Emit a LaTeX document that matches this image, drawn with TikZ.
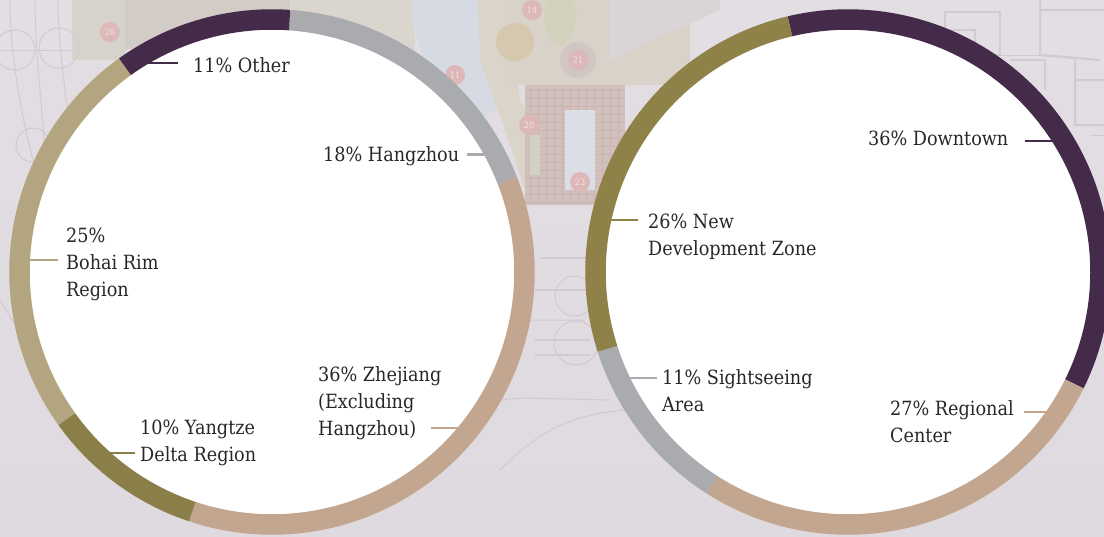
\documentclass[tikz,border=0pt]{standalone}
\usepackage{fontspec}
\setmainfont{DejaVu Serif Condensed}
\definecolor{ringDark}{HTML}{432B49}
\definecolor{ringGray}{HTML}{A9ABAE}
\definecolor{ringTan}{HTML}{C3A68F}
\definecolor{ringOlive}{HTML}{8A7F48}
\definecolor{ringOliveB}{HTML}{8F8249}
\definecolor{ringKhaki}{HTML}{B3A57F}
\definecolor{bgTop}{HTML}{E3DEE4}
\definecolor{bgBase}{HTML}{DFDADF}
\definecolor{planLine}{HTML}{D2C9D1}
\definecolor{labelInk}{HTML}{2A2628}
\definecolor{spot}{HTML}{DDB8B8}
\definecolor{bgC}{HTML}{D6D4CA}
\definecolor{bgD}{HTML}{D3CBC6}
\definecolor{bgE}{HTML}{DAD6CE}
\definecolor{bgF}{HTML}{D6DAE2}
\definecolor{bgG}{HTML}{DBD4C9}
\definecolor{bgH}{HTML}{D8D2C9}
\definecolor{bgI}{HTML}{D6C8AE}
\definecolor{bgJ}{HTML}{D2D2BC}
\definecolor{bgK}{HTML}{D2C6C4}
\definecolor{bgL}{HTML}{D2C0BC}
\definecolor{bgM}{HTML}{DCDEE5}
\definecolor{bgN}{HTML}{D1D2C4}
\definecolor{bgO}{HTML}{E2DDE3}
\definecolor{bgP}{HTML}{DBD4D7}
\definecolor{bgQ}{HTML}{C9B4AF}
\tikzset{
  ringseg/.style={line width=20.5pt,line cap=butt,line join=round},
  leader/.style={line width=2.4pt},
  lab/.style={anchor=base west,align=left,inner sep=0pt,text=labelInk,font=\fontsize{19.6}{26.8}\selectfont},
  planl/.style={draw=planLine,line width=1pt},
  planh/.style={draw=planLine,line width=2pt},
  spotn/.style={circle,fill=spot,minimum size=20pt,inner sep=0pt,text=white!60!spot,font=\fontsize{9}{9}\selectfont},
}
\newcommand{\seg}[4]{\draw[ringseg,draw=#4] plot[domain=#2:#3,samples=90,smooth] ({#1+252.5*sin(\x)},{272-252.5*cos(\x)});}
\begin{document}
\begin{tikzpicture}[x=1pt,y=-1pt]
\useasboundingbox (0,0) rectangle (1104,536);
% ---- faded plan in the background
\fill[top color=bgTop,bottom color=bgBase] (0,0) rectangle (1104,536);
\fill[bgC] (72,0) rectangle (125,60);
\fill[bgD] (125,0) -- (290,0) -- (290,20) -- (125,50) -- cycle;
\fill[bgE] (290,0) rectangle (415,60);
\fill[bgF] (412,0) -- (480,0) .. controls (482,40) and (490,70) .. (500,110) -- (470,120) .. controls (440,90) and (420,60) .. (412,20) -- cycle;
\fill[bgG] (478,0) -- (505,0) -- (520,100) -- (545,150) -- (525,190) -- (505,130) -- (480,60) -- cycle;
\fill[bgH] (505,0) rectangle (690,85);
\fill[bgI] (515,42) circle (19);
\fill[bgJ] (560,15) ellipse (16 and 30);
\fill[bgK] (578,60) circle (18);
\fill[bgL] (525,85) rectangle (625,205);
\foreach \bx in {530,538,...,622} {\draw[bgQ,line width=0.6pt] (\bx,85) -- (\bx,205);}
\foreach \by in {90,98,...,202} {\draw[bgQ,line width=0.6pt] (525,\by) -- (625,\by);}
\fill[bgM] (565,110) rectangle (595,190);
\fill[bgN] (530,135) rectangle (540,175);
\fill[bgO] (530,205) rectangle (610,228);
\fill[bgP] (610,60) -- (720,10) -- (720,0) -- (610,0) -- cycle;
\node[spotn] (s1) at (110,32) {26};
\node[spotn] (s2) at (455,75) {11};
\node[spotn] (s3) at (532,10) {14};
\node[spotn] (s4) at (578,60) {21};
\node[spotn] (s5) at (529,125) {20};
\node[spotn] (s6) at (580,182) {23};
% drawing circles and arcs
\draw[planl] (15,50) circle (20) (59,48) circle (20) (33,145) circle (17);
\draw[planl] (-5,50) -- (80,50);
\draw[planl] (10,0) .. controls (10,60) and (25,150) .. (55,230);
\draw[planl] (35,0) .. controls (35,60) and (45,130) .. (45,160);
\draw[planl] (58,0) .. controls (58,40) and (65,90) .. (70,130);
\draw[planl] (575,296) circle (20) (576,343) circle (22);
\draw[planh] (535,290) -- (590,290) (535,340) -- (590,340) (535,355) -- (590,355) (540,258) -- (590,258);
\draw[planl] (500,400) -- (520,398) -- (610,400) (500,470) .. controls (540,430) and (570,415) .. (625,410);
\draw[planl] (520,320) -- (585,320) (0,300) -- (60,400);
% building outlines
\draw[planh] (945,12) -- (1000,12) -- (1000,55) -- (975,55) -- (975,30) -- (945,30) -- cycle;
\draw[planh] (1040,0) -- (1040,55) -- (1100,60) (1040,10) -- (1104,10);
\draw[planh] (1040,55) -- (1075,58) -- (1075,80) -- (1104,80) (1075,80) -- (1075,125) -- (1104,125);
\draw[planl] (1000,55) -- (1040,55) (1090,135) -- (1104,135);
\draw[planh] (1010,60) -- (1045,60) -- (1045,90);
% ---- inner discs
\fill[white] (272,272) circle (243);
\fill[white] (848,272) circle (243);
% ---- left ring
\seg{272}{4}{68.8}{ringGray}
\seg{272}{68.8}{198.4}{ringTan}
\seg{272}{198.4}{234.4}{ringOlive}
\seg{272}{234.4}{324.4}{ringKhaki}
\seg{272}{324.4}{364}{ringDark}
% ---- right ring
\seg{848}{-13.3}{116.3}{ringDark}
\seg{848}{116.3}{212.5}{ringTan}
\seg{848}{212.5}{252.3}{ringGray}
\seg{848}{252.3}{346.7}{ringOliveB}
% ---- labels
\node[lab] (lOther) at (193,72) {11\% Other};
\node[lab] (lHang) at (323,161) {18\% Hangzhou};
\node[lab] (lBohai) at (66,296) {25\%\\Bohai Rim\\Region};
\node[lab] (lZhe) at (318,435) {36\% Zhejiang\\(Excluding\\Hangzhou)};
\node[lab] (lYang) at (140,461) {10\% Yangtze\\Delta Region};
\node[lab] (lDown) at (868,145) {36\% Downtown};
\node[lab] (lNew) at (648,255) {26\% New\\Development Zone};
\node[lab] (lSight) at (662,411) {11\% Sightseeing\\Area};
\node[lab] (lReg) at (890,442) {27\% Regional\\Center};
% ---- leader lines
\coordinate (aOther) at (146,63);  \coordinate (bOther) at (178,63);
\coordinate (aHang) at (467,154.5); \coordinate (bHang) at (490,154.5);
\coordinate (aBohai) at (30,260);  \coordinate (bBohai) at (58,260);
\coordinate (aZhe) at (431,428);   \coordinate (bZhe) at (460,428);
\coordinate (aYang) at (110,453);  \coordinate (bYang) at (135,453);
\coordinate (aDown) at (1025,141); \coordinate (bDown) at (1055,141);
\coordinate (aNew) at (610,220);   \coordinate (bNew) at (638,220);
\coordinate (aSight) at (630,378); \coordinate (bSight) at (657,378);
\coordinate (aReg) at (1024,412);  \coordinate (bReg) at (1050,412);
\draw[leader,ringDark] (aOther) -- (bOther);
\draw[leader,ringGray] (aHang) -- (bHang);
\draw[leader,ringKhaki] (aBohai) -- (bBohai);
\draw[leader,ringTan] (aZhe) -- (bZhe);
\draw[leader,ringOlive] (aYang) -- (bYang);
\draw[leader,ringDark] (aDown) -- (bDown);
\draw[leader,ringOliveB] (aNew) -- (bNew);
\draw[leader,ringGray] (aSight) -- (bSight);
\draw[leader,ringTan] (aReg) -- (bReg);
\end{tikzpicture}
\end{document}
